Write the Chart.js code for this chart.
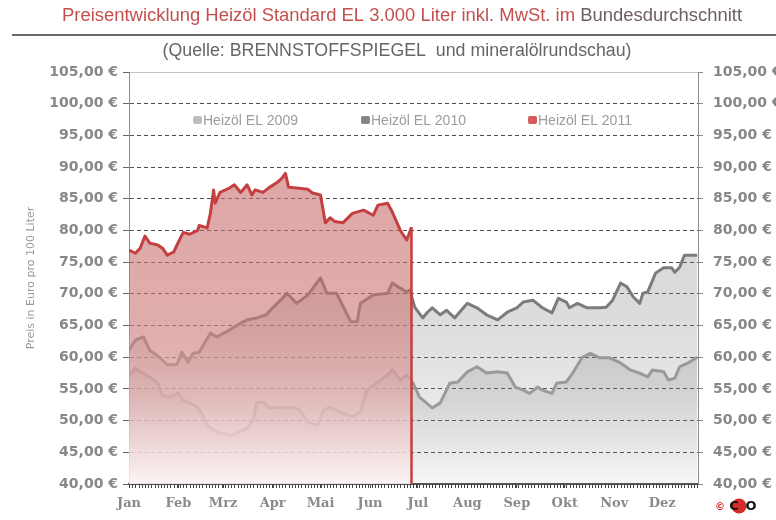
<!DOCTYPE html>
<html>
<head>
<meta charset="utf-8">
<script src="https://cdn.jsdelivr.net/npm/chart.js@4.4.1/dist/chart.umd.min.js"></script>
<style>
  html, body { margin: 0; padding: 0; background: #fff; }
</style>
</head>
<body>
<canvas id="chart" width="776" height="520"></canvas>
<script>
// month labels sit on the first day of each month (day of year)
const monthLabels = ['Jan', 'Feb', 'Mrz', 'Apr', 'Mai', 'Jun', 'Jul', 'Aug', 'Sep', 'Okt', 'Nov', 'Dez'];
const monthStartDays = [0, 31, 59, 90, 120, 151, 181, 212, 243, 273, 304, 334];

const seriesNames = ['Heizöl EL 2009', 'Heizöl EL 2010', 'Heizöl EL 2011'];

// prices in Euro per 100 litres, x = day of year
const days2009 = [0,4,7,13,18,21,26,31,34,38,43,46,49,53,57,65,74,78,80,84,88,95,103,107,112,118,122,126,132,140,145,149,155,162,165,170,174,178,182,190,195,201,206,212,218,224,231,237,242,247,251,256,259,265,268,274,278,284,289,295,301,308,314,320,325,328,335,338,342,345,351,356];
const price2009 = [57.0,58.3,57.7,56.9,55.9,54.0,53.7,54.3,53.2,52.8,52.1,50.9,49.3,48.5,48.0,47.7,48.8,50.1,52.8,52.9,52.0,52.1,52.1,51.7,49.8,49.3,51.7,52.1,51.4,50.6,51.4,54.8,55.9,57.2,58.0,56.4,57.2,55.9,53.7,52.0,52.8,55.9,56.1,57.7,58.5,57.5,57.7,57.5,55.3,54.8,54.3,55.3,54.8,54.3,55.9,56.1,57.5,60.0,60.6,59.9,59.9,59.1,58.0,57.5,56.9,58.0,57.7,56.4,56.7,58.5,59.2,60.0];

const days2010 = [0,4,9,13,19,24,30,33,37,40,44,51,55,61,68,74,80,86,90,95,99,105,112,120,124,130,139,143,145,153,162,165,170,174,176,179,184,187,190,195,199,204,212,218,224,231,237,243,247,253,259,265,269,274,276,281,287,295,299,303,308,312,316,320,322,325,330,335,340,342,345,348,356];
const price2010 = [61.1,62.7,63.2,61.1,60.0,58.8,58.8,60.8,59.2,60.6,60.8,63.8,63.2,64.0,65.1,65.9,66.2,66.7,67.8,69.0,70.1,68.5,69.8,72.5,70.1,70.1,65.6,65.6,68.5,69.8,70.1,71.7,70.9,70.3,70.6,67.9,66.2,67.1,67.8,66.7,67.4,66.2,68.5,67.8,66.7,65.9,67.1,67.8,68.7,69.0,67.8,67.0,69.3,68.7,67.8,68.5,67.8,67.8,67.9,69.0,71.7,71.1,69.5,68.5,70.1,70.3,73.3,74.1,74.1,73.4,74.2,76.1,76.1];

const days2011 = [0,4,7,10,13,18,21,24,28,31,34,38,43,44,49,51,53,54,57,63,66,70,74,77,79,84,88,93,96,98,100,105,112,115,120,123,126,129,134,140,147,153,156,162,165,170,174,177];
const price2011 = [76.9,76.4,77.2,79.1,78.0,77.7,77.2,76.1,76.6,78.2,79.7,79.4,80.0,80.8,80.4,82.7,86.4,84.3,86.0,86.7,87.2,86.0,87.2,85.6,86.4,86.0,86.8,87.6,88.3,89.0,86.8,86.7,86.5,85.9,85.6,81.2,82.0,81.4,81.2,82.7,83.2,82.4,84.0,84.3,82.9,80.0,78.5,80.5];

const toPoints = (xs, ys) => xs.map((d, i) => ({ x: d, y: ys[i] }));
const euro = v => v.toFixed(2).replace('.', ',') + ' €';

function fade(stops, fallback) {
    return function (context) {
        const area = context.chart.chartArea;
        if (!area) return fallback;
        const g = context.chart.ctx.createLinearGradient(0, area.top, 0, area.bottom);
        stops.forEach(s => g.addColorStop(s[0], s[1]));
        return g;
    };
}
const redFade = fade([
    [0, 'rgba(200,105,105,0.6)'],
    [0.55, 'rgba(200,110,110,0.58)'],
    [0.78, 'rgba(222,172,172,0.8)'],
    [1, 'rgba(252,244,244,0.9)']
], 'rgba(200,105,105,0.6)');
const grayFade = fade([
    [0, 'rgba(120,120,120,0.32)'],
    [0.6, 'rgba(120,120,120,0.26)'],
    [0.8, 'rgba(120,120,120,0.17)'],
    [1, 'rgba(120,120,120,0.03)']
], 'rgba(120,120,120,0.25)');

function drawFitted(ctx, parts, cx, cy, width, font) {
    ctx.save();
    ctx.font = font;
    const total = parts.reduce((s, p) => s + ctx.measureText(p[0]).width, 0);
    const k = width / total;
    ctx.translate(cx - width / 2, cy);
    ctx.scale(k, 1);
    ctx.textBaseline = 'middle';
    ctx.textAlign = 'left';
    let x = 0;
    parts.forEach(p => {
        ctx.fillStyle = p[1];
        ctx.fillText(p[0], x, 0);
        x += ctx.measureText(p[0]).width;
    });
    ctx.restore();
}

const decor = {
    id: 'decor',
    beforeDraw(chart) {
        const ctx = chart.ctx;
        ctx.save();
        ctx.fillStyle = '#fff';
        ctx.fillRect(0, 0, chart.width, chart.height);
        drawFitted(ctx, [['Preisentwicklung Heizöl Standard EL 3.000 Liter inkl. MwSt. im ', '#c4504e'], ['Bundesdurchschnitt', '#6e6060']],
            402, 16, 680, '18px "Liberation Sans"');
        ctx.strokeStyle = '#6a6a6a';
        ctx.lineWidth = 2;
        ctx.beginPath();
        ctx.moveTo(12, 35);
        ctx.lineTo(776, 35);
        ctx.stroke();
        drawFitted(ctx, [['(Quelle: BRENNSTOFFSPIEGEL  und mineralölrundschau)', '#666']],
            397, 51, 469, '18px "Liberation Sans"');
        ctx.restore();
    },
    afterDatasetsDraw(chart) {
        // 2011 area closes with a vertical edge at its last day
        const meta = chart.getDatasetMeta(0);
        const last = meta.data[meta.data.length - 1];
        const ctx = chart.ctx;
        ctx.save();
        ctx.strokeStyle = '#c44040';
        ctx.lineWidth = 2.5;
        ctx.beginPath();
        ctx.moveTo(last.x, last.y);
        ctx.lineTo(last.x, chart.chartArea.bottom);
        ctx.stroke();
        // dense tick marks under the x axis, one every two days
        const xs = chart.scales.x;
        ctx.strokeStyle = '#444';
        ctx.lineWidth = 1;
        ctx.beginPath();
        for (let d = 0; d <= 356; d += 2) {
            const px = Math.round(xs.getPixelForValue(d)) + 0.5;
            ctx.moveTo(px, chart.chartArea.bottom);
            ctx.lineTo(px, chart.chartArea.bottom + 4);
        }
        ctx.stroke();
        ctx.restore();
    },
    afterDraw(chart) {
        const ctx = chart.ctx;
        ctx.save();
        const items = [[193, '#bdbdbd'], [361, '#858585'], [528, '#d85a5a']];
        ctx.font = '14px "Liberation Sans"';
        ctx.textBaseline = 'middle';
        items.forEach((it, i) => {
            ctx.fillStyle = it[1];
            ctx.beginPath();
            ctx.roundRect(it[0], 116, 9, 8, 2);
            ctx.fill();
            ctx.fillStyle = '#9c9c9c';
            ctx.fillText(seriesNames[i], it[0] + 10, 121);
        });
        // small logo bottom right
        ctx.fillStyle = '#d52b2b';
        ctx.font = 'bold 10px "DejaVu Sans"';
        ctx.textAlign = 'center';
        ctx.fillText('©', 720, 507);
        ctx.beginPath();
        ctx.arc(739, 506, 7.5, 0, Math.PI * 2);
        ctx.fill();
        ctx.fillStyle = '#111';
        ctx.font = 'bold 13px "DejaVu Sans"';
        ctx.fillText('C', 734, 507);
        ctx.fillText('O', 751, 507);
        ctx.restore();
    }
};

const yTickOpts = {
    stepSize: 5,
    color: '#878787',
    font: { family: 'DejaVu Sans', weight: 'bold', size: 14 },
    callback: v => euro(v)
};

new Chart(document.getElementById('chart'), {
    type: 'line',
    data: {
        datasets: [
            {
                label: seriesNames[2],
                data: toPoints(days2011, price2011),
                borderColor: '#c44040',
                backgroundColor: redFade,
                fill: 'start',
                borderWidth: 3
            },
            {
                label: seriesNames[1],
                data: toPoints(days2010, price2010),
                borderColor: '#7c7c7c',
                backgroundColor: grayFade,
                fill: 'start',
                borderWidth: 3
            },
            {
                label: seriesNames[0],
                data: toPoints(days2009, price2009),
                borderColor: '#a2a2a2',
                backgroundColor: grayFade,
                fill: 'start',
                borderWidth: 3
            }
        ]
    },
    options: {
        responsive: false,
        animation: false,
        layout: { padding: { top: 72, left: 0, right: 0, bottom: 0 } },
        elements: {
            point: { radius: 0 },
            line: { tension: 0, borderJoinStyle: 'round' }
        },
        plugins: {
            legend: { display: false },
            tooltip: { enabled: false }
        },
        scales: {
            x: {
                type: 'linear',
                min: 0,
                max: 356.5,
                afterBuildTicks: scale => {
                    scale.ticks = monthStartDays.map(v => ({ value: v }));
                },
                afterFit: scale => { scale.height = 36; },
                ticks: {
                    autoSkip: false,
                    maxRotation: 0,
                    padding: 8,
                    color: '#8a8a8a',
                    font: { family: 'DejaVu Serif', weight: 'bold', size: 13 },
                    callback: v => {
                        const i = monthStartDays.indexOf(v);
                        return i >= 0 ? monthLabels[i] : '';
                    }
                },
                grid: { drawOnChartArea: false, tickLength: 4, tickColor: '#444' },
                border: { color: '#555', width: 1.5 }
            },
            y: {
                position: 'left',
                min: 40,
                max: 105,
                afterFit: scale => { scale.width = 129; },
                ticks: Object.assign({ padding: 5 }, yTickOpts),
                grid: {
                    color: c => (c.tick && c.tick.value === 105) ? '#c4c4c4' : '#505050',
                    tickLength: 6,
                    tickColor: '#666'
                },
                border: {
                    color: '#8c8c8c',
                    dash: c => (c.tick && c.tick.value !== 105 && c.tick.value !== 40) ? [4, 3] : []
                },
                title: {
                    display: true,
                    text: 'Preis in Euro pro 100 Liter',
                    color: '#9a9a9a',
                    font: { family: 'DejaVu Sans', size: 11 },
                    padding: { top: 25, bottom: 0 }
                }
            },
            y2: {
                position: 'right',
                min: 40,
                max: 105,
                afterFit: scale => { scale.width = 78; },
                ticks: Object.assign({ padding: 10 }, yTickOpts),
                grid: { drawOnChartArea: false, tickLength: 5, tickColor: '#888' },
                border: { color: '#8c8c8c' }
            }
        }
    },
    plugins: [decor]
});
</script>
</body>
</html>
